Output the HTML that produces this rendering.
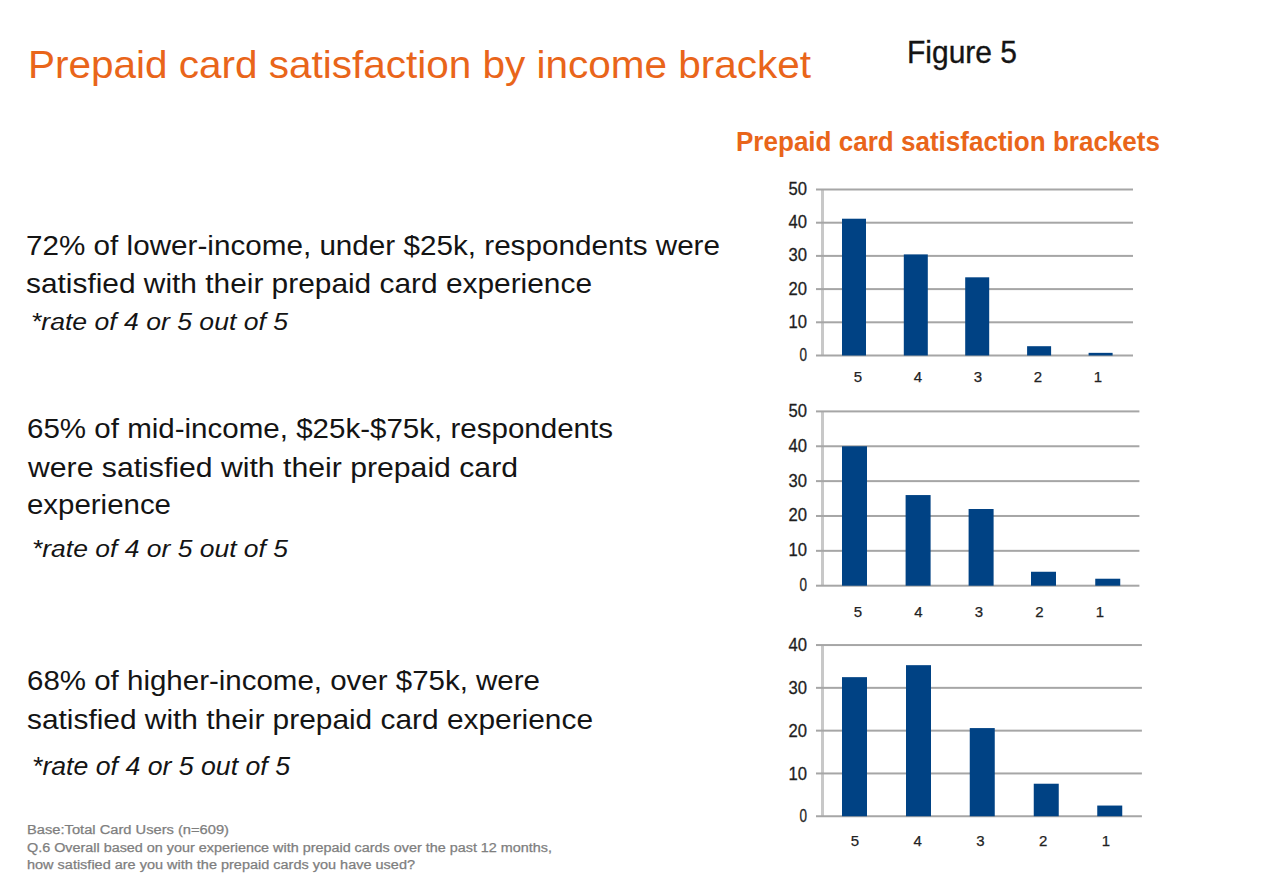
<!DOCTYPE html>
<html><head><meta charset="utf-8"><title>Prepaid card satisfaction by income bracket</title>
<style>
html,body{margin:0;padding:0;background:#fff;width:1280px;height:880px;overflow:hidden}
svg{display:block;font-family:"Liberation Sans",sans-serif}
</style></head><body>
<svg width="1280" height="880" viewBox="0 0 1280 880">
<rect width="1280" height="880" fill="#fff"/>
<text x="28" y="78" font-size="38.5" font-weight="normal" font-style="normal" fill="#E9651A" text-anchor="start" textLength="783" lengthAdjust="spacingAndGlyphs">Prepaid card satisfaction by income bracket</text>
<text x="907" y="63" font-size="31.5" font-weight="normal" font-style="normal" fill="#141414" text-anchor="start" textLength="110" lengthAdjust="spacingAndGlyphs" stroke="#141414" stroke-width="0.35">Figure 5</text>
<text x="736" y="151" font-size="27" font-weight="bold" font-style="normal" fill="#E9651A" text-anchor="start" textLength="424" lengthAdjust="spacingAndGlyphs">Prepaid card satisfaction brackets</text>
<text x="26" y="254.5" font-size="27.5" font-weight="normal" font-style="normal" fill="#141414" text-anchor="start" textLength="694" lengthAdjust="spacingAndGlyphs">72% of lower-income, under $25k, respondents were</text>
<text x="26" y="293" font-size="27.5" font-weight="normal" font-style="normal" fill="#141414" text-anchor="start" textLength="566" lengthAdjust="spacingAndGlyphs">satisfied with their prepaid card experience</text>
<text x="31" y="330" font-size="23" font-weight="normal" font-style="italic" fill="#141414" text-anchor="start" textLength="257" lengthAdjust="spacingAndGlyphs">*rate of 4 or 5 out of 5</text>
<text x="27" y="438" font-size="27.5" font-weight="normal" font-style="normal" fill="#141414" text-anchor="start" textLength="586" lengthAdjust="spacingAndGlyphs">65% of mid-income, $25k-$75k, respondents</text>
<text x="28" y="476.5" font-size="27.5" font-weight="normal" font-style="normal" fill="#141414" text-anchor="start" textLength="490" lengthAdjust="spacingAndGlyphs">were satisfied with their prepaid card</text>
<text x="27" y="514" font-size="27.5" font-weight="normal" font-style="normal" fill="#141414" text-anchor="start" textLength="144" lengthAdjust="spacingAndGlyphs">experience</text>
<text x="32" y="557" font-size="23" font-weight="normal" font-style="italic" fill="#141414" text-anchor="start" textLength="256" lengthAdjust="spacingAndGlyphs">*rate of 4 or 5 out of 5</text>
<text x="27" y="689.5" font-size="27.5" font-weight="normal" font-style="normal" fill="#141414" text-anchor="start" textLength="513" lengthAdjust="spacingAndGlyphs">68% of higher-income, over $75k, were</text>
<text x="27" y="729" font-size="27.5" font-weight="normal" font-style="normal" fill="#141414" text-anchor="start" textLength="566" lengthAdjust="spacingAndGlyphs">satisfied with their prepaid card experience</text>
<text x="32" y="775" font-size="25.5" font-weight="normal" font-style="italic" fill="#141414" text-anchor="start" textLength="258" lengthAdjust="spacingAndGlyphs">*rate of 4 or 5 out of 5</text>
<text x="27" y="834.3" font-size="12.5" font-weight="normal" font-style="normal" fill="#7e7e7e" text-anchor="start" textLength="202" lengthAdjust="spacingAndGlyphs" stroke="#7e7e7e" stroke-width="0.25">Base:Total Card Users (n=609)</text>
<text x="27" y="852" font-size="12.5" font-weight="normal" font-style="normal" fill="#7e7e7e" text-anchor="start" textLength="525" lengthAdjust="spacingAndGlyphs" stroke="#7e7e7e" stroke-width="0.25">Q.6 Overall based on your experience with prepaid cards over the past 12 months,</text>
<text x="27" y="869.3" font-size="12.5" font-weight="normal" font-style="normal" fill="#7e7e7e" text-anchor="start" textLength="388" lengthAdjust="spacingAndGlyphs" stroke="#7e7e7e" stroke-width="0.25">how satisfied are you with the prepaid cards you have used?</text>
<rect x="821" y="189.5" width="3" height="166.0" fill="#c8c8c8"/>
<rect x="816" y="354.5" width="317" height="2" fill="#a6a6a6"/>
<text x="807" y="360.9" font-size="18" font-weight="normal" font-style="normal" fill="#1e1e1e" text-anchor="end" textLength="7.5" lengthAdjust="spacingAndGlyphs" stroke="#1e1e1e" stroke-width="0.3">0</text>
<rect x="816" y="321.3" width="317" height="2" fill="#a6a6a6"/>
<text x="807" y="327.7" font-size="18" font-weight="normal" font-style="normal" fill="#1e1e1e" text-anchor="end" textLength="18.5" lengthAdjust="spacingAndGlyphs" stroke="#1e1e1e" stroke-width="0.3">10</text>
<rect x="816" y="288.1" width="317" height="2" fill="#a6a6a6"/>
<text x="807" y="294.5" font-size="18" font-weight="normal" font-style="normal" fill="#1e1e1e" text-anchor="end" textLength="18.5" lengthAdjust="spacingAndGlyphs" stroke="#1e1e1e" stroke-width="0.3">20</text>
<rect x="816" y="254.89999999999998" width="317" height="2" fill="#a6a6a6"/>
<text x="807" y="261.29999999999995" font-size="18" font-weight="normal" font-style="normal" fill="#1e1e1e" text-anchor="end" textLength="18.5" lengthAdjust="spacingAndGlyphs" stroke="#1e1e1e" stroke-width="0.3">30</text>
<rect x="816" y="221.7" width="317" height="2" fill="#a6a6a6"/>
<text x="807" y="228.1" font-size="18" font-weight="normal" font-style="normal" fill="#1e1e1e" text-anchor="end" textLength="18.5" lengthAdjust="spacingAndGlyphs" stroke="#1e1e1e" stroke-width="0.3">40</text>
<rect x="816" y="188.5" width="317" height="2" fill="#a6a6a6"/>
<text x="807" y="194.9" font-size="18" font-weight="normal" font-style="normal" fill="#1e1e1e" text-anchor="end" textLength="18.5" lengthAdjust="spacingAndGlyphs" stroke="#1e1e1e" stroke-width="0.3">50</text>
<rect x="842" y="218.71599999999998" width="24" height="136.78400000000002" fill="#004284"/>
<text x="857.8" y="381.5" font-size="15" font-weight="normal" font-style="normal" fill="#222" text-anchor="middle" stroke="#222" stroke-width="0.25">5</text>
<rect x="903.8" y="254.406" width="24" height="101.09400000000001" fill="#004284"/>
<text x="917.8499999999999" y="381.5" font-size="15" font-weight="normal" font-style="normal" fill="#222" text-anchor="middle" stroke="#222" stroke-width="0.25">4</text>
<rect x="965.2" y="277.31399999999996" width="24" height="78.186" fill="#004284"/>
<text x="977.9" y="381.5" font-size="15" font-weight="normal" font-style="normal" fill="#222" text-anchor="middle" stroke="#222" stroke-width="0.25">3</text>
<rect x="1027.1" y="346.204" width="24" height="9.296000000000001" fill="#004284"/>
<text x="1037.9499999999998" y="381.5" font-size="15" font-weight="normal" font-style="normal" fill="#222" text-anchor="middle" stroke="#222" stroke-width="0.25">2</text>
<rect x="1088.6" y="352.844" width="24" height="2.656" fill="#004284"/>
<text x="1098.0" y="381.5" font-size="15" font-weight="normal" font-style="normal" fill="#222" text-anchor="middle" stroke="#222" stroke-width="0.25">1</text>
<rect x="821" y="411.40000000000003" width="3" height="174.3" fill="#c8c8c8"/>
<rect x="816" y="584.7" width="323.4000000000001" height="2" fill="#a6a6a6"/>
<text x="807" y="591.1" font-size="18" font-weight="normal" font-style="normal" fill="#1e1e1e" text-anchor="end" textLength="7.5" lengthAdjust="spacingAndGlyphs" stroke="#1e1e1e" stroke-width="0.3">0</text>
<rect x="816" y="549.84" width="323.4000000000001" height="2" fill="#a6a6a6"/>
<text x="807" y="556.24" font-size="18" font-weight="normal" font-style="normal" fill="#1e1e1e" text-anchor="end" textLength="18.5" lengthAdjust="spacingAndGlyphs" stroke="#1e1e1e" stroke-width="0.3">10</text>
<rect x="816" y="514.98" width="323.4000000000001" height="2" fill="#a6a6a6"/>
<text x="807" y="521.38" font-size="18" font-weight="normal" font-style="normal" fill="#1e1e1e" text-anchor="end" textLength="18.5" lengthAdjust="spacingAndGlyphs" stroke="#1e1e1e" stroke-width="0.3">20</text>
<rect x="816" y="480.12000000000006" width="323.4000000000001" height="2" fill="#a6a6a6"/>
<text x="807" y="486.52000000000004" font-size="18" font-weight="normal" font-style="normal" fill="#1e1e1e" text-anchor="end" textLength="18.5" lengthAdjust="spacingAndGlyphs" stroke="#1e1e1e" stroke-width="0.3">30</text>
<rect x="816" y="445.26000000000005" width="323.4000000000001" height="2" fill="#a6a6a6"/>
<text x="807" y="451.66" font-size="18" font-weight="normal" font-style="normal" fill="#1e1e1e" text-anchor="end" textLength="18.5" lengthAdjust="spacingAndGlyphs" stroke="#1e1e1e" stroke-width="0.3">40</text>
<rect x="816" y="410.40000000000003" width="323.4000000000001" height="2" fill="#a6a6a6"/>
<text x="807" y="416.8" font-size="18" font-weight="normal" font-style="normal" fill="#1e1e1e" text-anchor="end" textLength="18.5" lengthAdjust="spacingAndGlyphs" stroke="#1e1e1e" stroke-width="0.3">50</text>
<rect x="842" y="446.26000000000005" width="25" height="139.44" fill="#004284"/>
<text x="857.8" y="617" font-size="15" font-weight="normal" font-style="normal" fill="#222" text-anchor="middle" stroke="#222" stroke-width="0.25">5</text>
<rect x="905.6" y="495.0640000000001" width="25" height="90.636" fill="#004284"/>
<text x="918.3" y="617" font-size="15" font-weight="normal" font-style="normal" fill="#222" text-anchor="middle" stroke="#222" stroke-width="0.25">4</text>
<rect x="968.6" y="509.00800000000004" width="25" height="76.692" fill="#004284"/>
<text x="978.8" y="617" font-size="15" font-weight="normal" font-style="normal" fill="#222" text-anchor="middle" stroke="#222" stroke-width="0.25">3</text>
<rect x="1031" y="571.7560000000001" width="25" height="13.943999999999999" fill="#004284"/>
<text x="1039.3" y="617" font-size="15" font-weight="normal" font-style="normal" fill="#222" text-anchor="middle" stroke="#222" stroke-width="0.25">2</text>
<rect x="1095.25" y="578.7280000000001" width="25" height="6.9719999999999995" fill="#004284"/>
<text x="1099.8" y="617" font-size="15" font-weight="normal" font-style="normal" fill="#222" text-anchor="middle" stroke="#222" stroke-width="0.25">1</text>
<rect x="821" y="645.05" width="3" height="171.20000000000005" fill="#c8c8c8"/>
<rect x="816" y="815.25" width="325.9000000000001" height="2" fill="#a6a6a6"/>
<text x="807" y="822.4499999999999" font-size="18" font-weight="normal" font-style="normal" fill="#1e1e1e" text-anchor="end" textLength="7.5" lengthAdjust="spacingAndGlyphs" stroke="#1e1e1e" stroke-width="0.3">0</text>
<rect x="816" y="772.45" width="325.9000000000001" height="2" fill="#a6a6a6"/>
<text x="807" y="779.65" font-size="18" font-weight="normal" font-style="normal" fill="#1e1e1e" text-anchor="end" textLength="18.5" lengthAdjust="spacingAndGlyphs" stroke="#1e1e1e" stroke-width="0.3">10</text>
<rect x="816" y="729.65" width="325.9000000000001" height="2" fill="#a6a6a6"/>
<text x="807" y="736.8499999999999" font-size="18" font-weight="normal" font-style="normal" fill="#1e1e1e" text-anchor="end" textLength="18.5" lengthAdjust="spacingAndGlyphs" stroke="#1e1e1e" stroke-width="0.3">20</text>
<rect x="816" y="686.85" width="325.9000000000001" height="2" fill="#a6a6a6"/>
<text x="807" y="694.05" font-size="18" font-weight="normal" font-style="normal" fill="#1e1e1e" text-anchor="end" textLength="18.5" lengthAdjust="spacingAndGlyphs" stroke="#1e1e1e" stroke-width="0.3">30</text>
<rect x="816" y="644.05" width="325.9000000000001" height="2" fill="#a6a6a6"/>
<text x="807" y="651.2499999999999" font-size="18" font-weight="normal" font-style="normal" fill="#1e1e1e" text-anchor="end" textLength="18.5" lengthAdjust="spacingAndGlyphs" stroke="#1e1e1e" stroke-width="0.3">40</text>
<rect x="842" y="677.15" width="25" height="139.1" fill="#004284"/>
<text x="855.0" y="846" font-size="15" font-weight="normal" font-style="normal" fill="#222" text-anchor="middle" stroke="#222" stroke-width="0.25">5</text>
<rect x="906" y="665.166" width="25" height="151.08399999999997" fill="#004284"/>
<text x="917.7" y="846" font-size="15" font-weight="normal" font-style="normal" fill="#222" text-anchor="middle" stroke="#222" stroke-width="0.25">4</text>
<rect x="969.75" y="728.082" width="25" height="88.16799999999999" fill="#004284"/>
<text x="980.4" y="846" font-size="15" font-weight="normal" font-style="normal" fill="#222" text-anchor="middle" stroke="#222" stroke-width="0.25">3</text>
<rect x="1033.75" y="783.722" width="25" height="32.528" fill="#004284"/>
<text x="1043.1" y="846" font-size="15" font-weight="normal" font-style="normal" fill="#222" text-anchor="middle" stroke="#222" stroke-width="0.25">2</text>
<rect x="1097.25" y="805.55" width="25" height="10.7" fill="#004284"/>
<text x="1105.8" y="846" font-size="15" font-weight="normal" font-style="normal" fill="#222" text-anchor="middle" stroke="#222" stroke-width="0.25">1</text>
</svg>
</body></html>
